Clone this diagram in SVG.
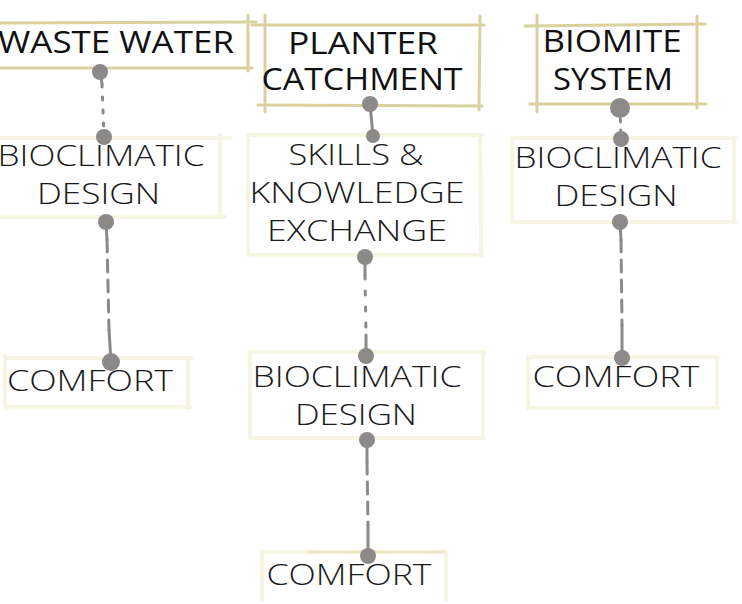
<svg xmlns="http://www.w3.org/2000/svg" width="742" height="604" viewBox="0 0 742 604">
<style>
.t1{font-family:"Open Sans","Noto Sans","DejaVu Sans",sans-serif;font-weight:500;font-size:31px;fill:#111;text-anchor:middle}
.t2{font-family:"Open Sans","Noto Sans","DejaVu Sans",sans-serif;font-weight:300;font-size:30px;fill:#1a1a1a;text-anchor:middle}
.fr{stroke:#d9d29f;stroke-width:3;fill:none;stroke-linecap:round}
.ff{stroke:#f6f4e3;stroke-width:4;fill:none;stroke-linecap:round}
.cn{stroke:#8e8888;stroke-width:3;fill:none;stroke-linecap:round}
.dot{fill:#8c8989}
</style>
<rect width="742" height="604" fill="#fff"/>
<g id="waste-water">
<path class="fr" d="M0 23 L256 22 M0 68 L252 68 M248 15 L248 71"/>
<text class="t1" x="116" y="53" textLength="236" lengthAdjust="spacingAndGlyphs">WASTE WATER</text>
</g>
<g id="planter-catchment">
<path class="fr" d="M252 25 L484 25 M258 105 L482 106 M265 15 L265 112 M480 16 L479 110"/>
<text class="t1" x="363" y="54" textLength="150" lengthAdjust="spacingAndGlyphs">PLANTER</text>
<text class="t1" x="362" y="90" textLength="201" lengthAdjust="spacingAndGlyphs">CATCHMENT</text>
</g>
<g id="biomite-system">
<path class="fr" d="M525 26 L705 24 M530 104 L706 104 M537 15 L537 112 M697 16 L697 108"/>
<text class="t1" x="612" y="52" textLength="139" lengthAdjust="spacingAndGlyphs">BIOMITE</text>
<text class="t1" x="613" y="90" textLength="120" lengthAdjust="spacingAndGlyphs">SYSTEM</text>
</g>
<g id="bioclimatic-1">
<path class="ff" d="M0 138 L230 138 M0 217 L225 217 M220 135 L220 215"/>
<text class="t2" x="101" y="166" textLength="207" lengthAdjust="spacingAndGlyphs">BIOCLIMATIC</text>
<text class="t2" x="98.5" y="204" textLength="123" lengthAdjust="spacingAndGlyphs">DESIGN</text>
</g>
<g id="comfort-1">
<path class="ff" d="M5 358 L192 358 M5 407 L190 407 M5 356 L5 405 M188 358 L188 408"/>
<text class="t2" x="90" y="391" textLength="166" lengthAdjust="spacingAndGlyphs">COMFORT</text>
</g>
<g id="skills-knowledge-exchange">
<path class="ff" d="M248 135 L482 135 M248 255 L482 255 M248 135 L248 255 M480 135 L481 255"/>
<text class="t2" x="356" y="165" textLength="135" lengthAdjust="spacingAndGlyphs">SKILLS &amp;</text>
<text class="t2" x="357" y="203" textLength="215" lengthAdjust="spacingAndGlyphs">KNOWLEDGE</text>
<text class="t2" x="357" y="241" textLength="180" lengthAdjust="spacingAndGlyphs">EXCHANGE</text>
</g>
<g id="bioclimatic-2">
<path class="ff" d="M250 352 L484 352 M250 438 L484 438 M250 352 L250 438 M483 352 L483 438"/>
<text class="t2" x="357" y="387" textLength="209" lengthAdjust="spacingAndGlyphs">BIOCLIMATIC</text>
<text class="t2" x="356" y="425" textLength="122" lengthAdjust="spacingAndGlyphs">DESIGN</text>
</g>
<g id="comfort-2">
<path class="ff" d="M262 552 L446 552 M262 552 L262 600 M446 552 L446 600"/>
<path d="M307 552 L445 552" stroke="#ece7c6" stroke-width="3" fill="none"/>
<text class="t2" x="349" y="585" textLength="165" lengthAdjust="spacingAndGlyphs">COMFORT</text>
</g>
<g id="bioclimatic-3">
<path class="ff" d="M512 138 L736 138 M512 222 L736 222 M512 138 L512 222 M734 138 L734 222"/>
<text class="t2" x="618" y="168" textLength="207" lengthAdjust="spacingAndGlyphs">BIOCLIMATIC</text>
<text class="t2" x="616" y="206" textLength="123" lengthAdjust="spacingAndGlyphs">DESIGN</text>
</g>
<g id="comfort-3">
<path class="ff" d="M528 357 L718 357 M528 408 L718 408 M528 357 L528 408 M717 357 L717 408"/>
<text class="t2" x="616" y="387" textLength="167" lengthAdjust="spacingAndGlyphs">COMFORT</text>
</g>
<g id="connectors">
<path class="cn" d="M100 72 L102 84"/>
<path class="cn" d="M102 84 L104 137" stroke-dasharray="3 10"/>
<path class="cn" d="M106 222 L107 240"/>
<path class="cn" d="M107 240 L109 330" stroke-dasharray="12 8"/>
<path class="cn" d="M109 330 L111 362"/>
<path class="cn" d="M370 104 L373 136"/>
<path class="cn" d="M365 257 L365 275"/>
<path class="cn" d="M365 275 L366 335" stroke-dasharray="4 12"/>
<path class="cn" d="M366 335 L366 356"/>
<path class="cn" d="M367 440 L367 462"/>
<path class="cn" d="M367 462 L368 525" stroke-dasharray="12 8"/>
<path class="cn" d="M368 525 L368 556"/>
<path class="cn" d="M620 108 L621 139" stroke-dasharray="3 8"/>
<path class="cn" d="M620 222 L621 240"/>
<path class="cn" d="M621 240 L622 325" stroke-dasharray="12 8"/>
<path class="cn" d="M622 325 L622 358"/>
<circle class="dot" cx="100" cy="72" r="8"/>
<circle class="dot" cx="104" cy="137" r="8"/>
<circle class="dot" cx="106" cy="222" r="8"/>
<circle class="dot" cx="111" cy="362" r="9"/>
<circle class="dot" cx="370" cy="104" r="8"/>
<circle class="dot" cx="373" cy="136" r="7"/>
<circle class="dot" cx="365" cy="257" r="8"/>
<circle class="dot" cx="366" cy="356" r="8"/>
<circle class="dot" cx="367" cy="440" r="8"/>
<circle class="dot" cx="368" cy="556" r="8"/>
<circle class="dot" cx="620" cy="108" r="10"/>
<circle class="dot" cx="621" cy="139" r="8"/>
<circle class="dot" cx="620" cy="222" r="8"/>
<circle class="dot" cx="622" cy="358" r="8"/>
</g>
</svg>
